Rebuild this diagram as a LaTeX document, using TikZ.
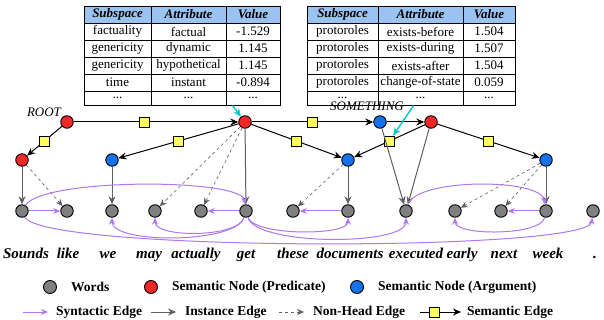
\documentclass[tikz,border=0pt]{standalone}
\usepackage{fontspec}
\setmainfont{Liberation Serif}
\usetikzlibrary{arrows.meta, positioning, matrix}
\definecolor{wordFill}{RGB}{128,128,128}
\definecolor{predFill}{RGB}{240,40,40}
\definecolor{argFill}{RGB}{20,115,235}
\definecolor{edgeFill}{RGB}{255,255,102}
\definecolor{headFill}{RGB}{155,195,240}
\definecolor{synLine}{RGB}{175,120,240}
\definecolor{instLine}{RGB}{95,95,95}
\definecolor{attrLine}{RGB}{0,200,205}
\tikzset{
  tok/.style={
    circle,
    draw=black,
    line width=0.9pt,
    minimum size=12.5pt,
    inner sep=0pt,
    fill=wordFill
  },
  predNode/.style={tok, fill=predFill},
  argNode/.style={tok, fill=argFill},
  edgebox/.style={draw=black, line width=0.8pt, fill=edgeFill, minimum size=10pt, inner sep=0pt},
  wordtext/.style={font=\fontsize{15}{17}\selectfont\bfseries\itshape, inner sep=0pt, anchor=base},
  tag/.style={font=\fontsize{13}{15}\selectfont\itshape, inner sep=0pt},
  cell/.style={
    draw=black,
    line width=1pt,
    inner sep=0pt,
    minimum height=17pt,
    anchor=center,
    font=\fontsize{13}{15}\selectfont
  },
  headcell/.style={fill=headFill, font=\fontsize{13}{15}\selectfont\bfseries\itshape},
  attrtable/.style={
    matrix of nodes,
    anchor=north west,
    nodes={cell},
    row sep=-1pt,
    column sep=-1pt,
    row 1/.style={nodes={headcell}},
    row 6/.style={nodes={minimum height=14pt}}
  },
  semantic/.style={-{Stealth[length=8pt,width=7pt]}, line width=1pt, draw=black},
  instance/.style={-{Stealth[length=8pt,width=7pt]}, line width=1pt, draw=instLine},
  nonhead/.style={-{Stealth[length=7pt,width=6pt]}, line width=0.6pt, dashed, draw=instLine},
  syntactic/.style={-{Stealth[open,length=7pt,width=6pt]}, line width=1pt, draw=synLine},
  attrlink/.style={-{Stealth[length=8pt,width=7pt]}, line width=1.4pt, draw=attrLine},
  legtext/.style={font=\fontsize{13.5}{15}\selectfont\bfseries, inner sep=0pt, anchor=west}
}
\begin{document}
\begin{tikzpicture}[x=1pt, y=1pt]
  \path[use as bounding box, fill=white] (0,0) rectangle (604,-320);

  \matrix[attrtable, column 1/.style={nodes={minimum width=67pt}}, column 2/.style={nodes={minimum width=75pt}}, column 3/.style={nodes={minimum width=54pt}}] (predTable) at (80,-2) {
    Subspace & Attribute & Value \\
    factuality & factual & -1.529 \\
    genericity & dynamic & 1.145 \\
    genericity & hypothetical & 1.145 \\
    time & instant & -0.894 \\
    ... & ... & ... \\
  };
  \matrix[attrtable, column 1/.style={nodes={minimum width=71pt}}, column 2/.style={nodes={minimum width=85pt}}, column 3/.style={nodes={minimum width=52pt}}] (roleTable) at (303,-2) {
    Subspace & Attribute & Value \\
    protoroles & exists-before & 1.504 \\
    protoroles & exists-during & 1.507 \\
    protoroles & exists-after & 1.504 \\
    protoroles & change-of-state & 0.059 \\
    ... & ... & ... \\
  };

  \node[predNode] (root) at (67,-122) {};
  \node[tag] (rootTag) at (44,-112) {ROOT};
  \node[predNode] (predGet) at (245,-122) {};
  \node[predNode] (predSounds) at (22,-160) {};
  \node[argNode] (argWe) at (112,-160) {};
  \node[argNode] (argSomething) at (380,-122) {};
  \node[tag] (somethingTag) at (367,-106) {SOMETHING};
  \node[predNode] (predExec) at (431,-122) {};
  \node[argNode] (argDocs) at (348,-160) {};
  \node[argNode] (argWeek) at (546,-160) {};

  \node[tok] (wSounds) at (22,-211) {};
  \node[tok] (wLike) at (67,-211) {};
  \node[tok] (wWe) at (112,-211) {};
  \node[tok] (wMay) at (155,-211) {};
  \node[tok] (wActually) at (201,-211) {};
  \node[tok] (wGet) at (246,-211) {};
  \node[tok] (wThese) at (293,-211) {};
  \node[tok] (wDocs) at (348,-211) {};
  \node[tok] (wExec) at (406,-211) {};
  \node[tok] (wEarly) at (455,-211) {};
  \node[tok] (wNext) at (501,-211) {};
  \node[tok] (wWeek) at (546,-211) {};
  \node[tok] (wDot) at (593,-211) {};

  \node[wordtext] (tSounds) at (26,-258) {Sounds};
  \node[wordtext] (tLike) at (68,-258) {like};
  \node[wordtext] (tWe) at (108,-258) {we};
  \node[wordtext] (tMay) at (149,-258) {may};
  \node[wordtext] (tActually) at (196,-258) {actually};
  \node[wordtext] (tGet) at (246,-258) {get};
  \node[wordtext] (tThese) at (293,-258) {these};
  \node[wordtext] (tDocs) at (350,-258) {documents};
  \node[wordtext] (tExec) at (416,-258) {executed};
  \node[wordtext] (tEarly) at (462,-258) {early};
  \node[wordtext] (tNext) at (504,-258) {next};
  \node[wordtext] (tWeek) at (548,-258) {week};
  \node[wordtext] (tDot) at (595,-258) {.};

  \draw[semantic] (root) -- node[edgebox, pos=.43] {} (predGet);
  \draw[semantic] (root) -- node[edgebox] {} (predSounds);
  \draw[semantic] (predGet) -- node[edgebox] {} (argWe);
  \draw[semantic] (predGet) -- node[edgebox] {} (argSomething);
  \draw[semantic] (predGet) -- node[edgebox] {} (argDocs);
  \draw[semantic] (predExec) -- node[edgebox] (roleBox) {} (argDocs);
  \draw[semantic] (predExec) -- node[edgebox] {} (argWeek);
  \draw[semantic] (argSomething) -- (predExec);

  \draw[attrlink] ([xshift=7pt]predTable-6-3.south west) -- (predGet);
  \draw[attrlink] ([xshift=-7pt]roleTable-6-2.south) -- (roleBox);

  \draw[instance] (predSounds) -- (wSounds);
  \draw[instance] (argWe) -- (wWe);
  \draw[instance] (predGet) -- (wGet);
  \draw[instance] (argDocs) -- (wDocs);
  \draw[instance] (argSomething) -- (wExec);
  \draw[instance] (predExec) -- (wExec);
  \draw[instance] (argWeek) -- (wWeek);

  \draw[nonhead] (predSounds) -- (wLike);
  \draw[nonhead] (predGet) -- (wMay);
  \draw[nonhead] (predGet) -- (wActually);
  \draw[nonhead] (argDocs) -- (wThese);
  \draw[nonhead] (argWeek) -- (wEarly);
  \draw[nonhead] (argWeek) -- (wNext);

  \draw[syntactic] (wSounds) -- (wLike);
  \draw[syntactic] (wGet) -- (wActually);
  \draw[syntactic] (wDocs) -- (wThese);
  \draw[syntactic] (wWeek) -- (wNext);
  \draw[syntactic] (wSounds) .. controls +(20,33) and +(-5,33) .. (wGet);
  \draw[syntactic] (wExec) .. controls +(10,33) and +(-5,33) .. (wWeek);
  \draw[syntactic] (wGet) .. controls +(-10,-33) and +(0,-33) .. (wWe);
  \draw[syntactic] (wGet) .. controls +(-8,-27) and +(0,-27) .. (wMay);
  \draw[syntactic] (wGet) .. controls +(8,-25) and +(0,-25) .. (wDocs);
  \draw[syntactic] (wGet) .. controls +(10,-35) and +(0,-35) .. (wExec);
  \draw[syntactic] (wWeek) .. controls +(-5,-25) and +(0,-25) .. (wEarly);
  \draw[syntactic] (wSounds) .. controls +(20,-41) and +(-5,-41) .. (wDot);

  \node[tok, minimum size=13pt] (lgWord) at (50,-287) {};
  \node[legtext, right=14pt of lgWord] (lgWordTxt) {Words};
  \node[predNode, minimum size=13pt] (lgPred) at (151,-287) {};
  \node[legtext, right=14pt of lgPred] (lgPredTxt) {Semantic Node (Predicate)};
  \node[argNode, minimum size=13pt] (lgArg) at (357,-287) {};
  \node[legtext, right=14pt of lgArg] (lgArgTxt) {Semantic Node (Argument)};

  \coordinate (lgSynA) at (23,-312);
  \coordinate (lgSynB) at (48,-312);
  \node[legtext] (lgSynTxt) at (56,-312) {Syntactic Edge};
  \coordinate (lgInstA) at (151,-312);
  \coordinate (lgInstB) at (176,-312);
  \node[legtext] (lgInstTxt) at (185,-312) {Instance Edge};
  \coordinate (lgNonA) at (279,-312);
  \coordinate (lgNonB) at (304,-312);
  \node[legtext] (lgNonTxt) at (313,-312) {Non-Head Edge};
  \coordinate (lgSemA) at (420,-312);
  \coordinate (lgSemB) at (461,-312);
  \node[legtext] (lgSemTxt) at (467,-312) {Semantic Edge};

  \draw[syntactic] (lgSynA) -- (lgSynB);
  \draw[instance] (lgInstA) -- (lgInstB);
  \draw[nonhead] (lgNonA) -- (lgNonB);
  \draw[semantic] (lgSemA) -- node[edgebox, pos=.34] {} (lgSemB);
\end{tikzpicture}
\end{document}
